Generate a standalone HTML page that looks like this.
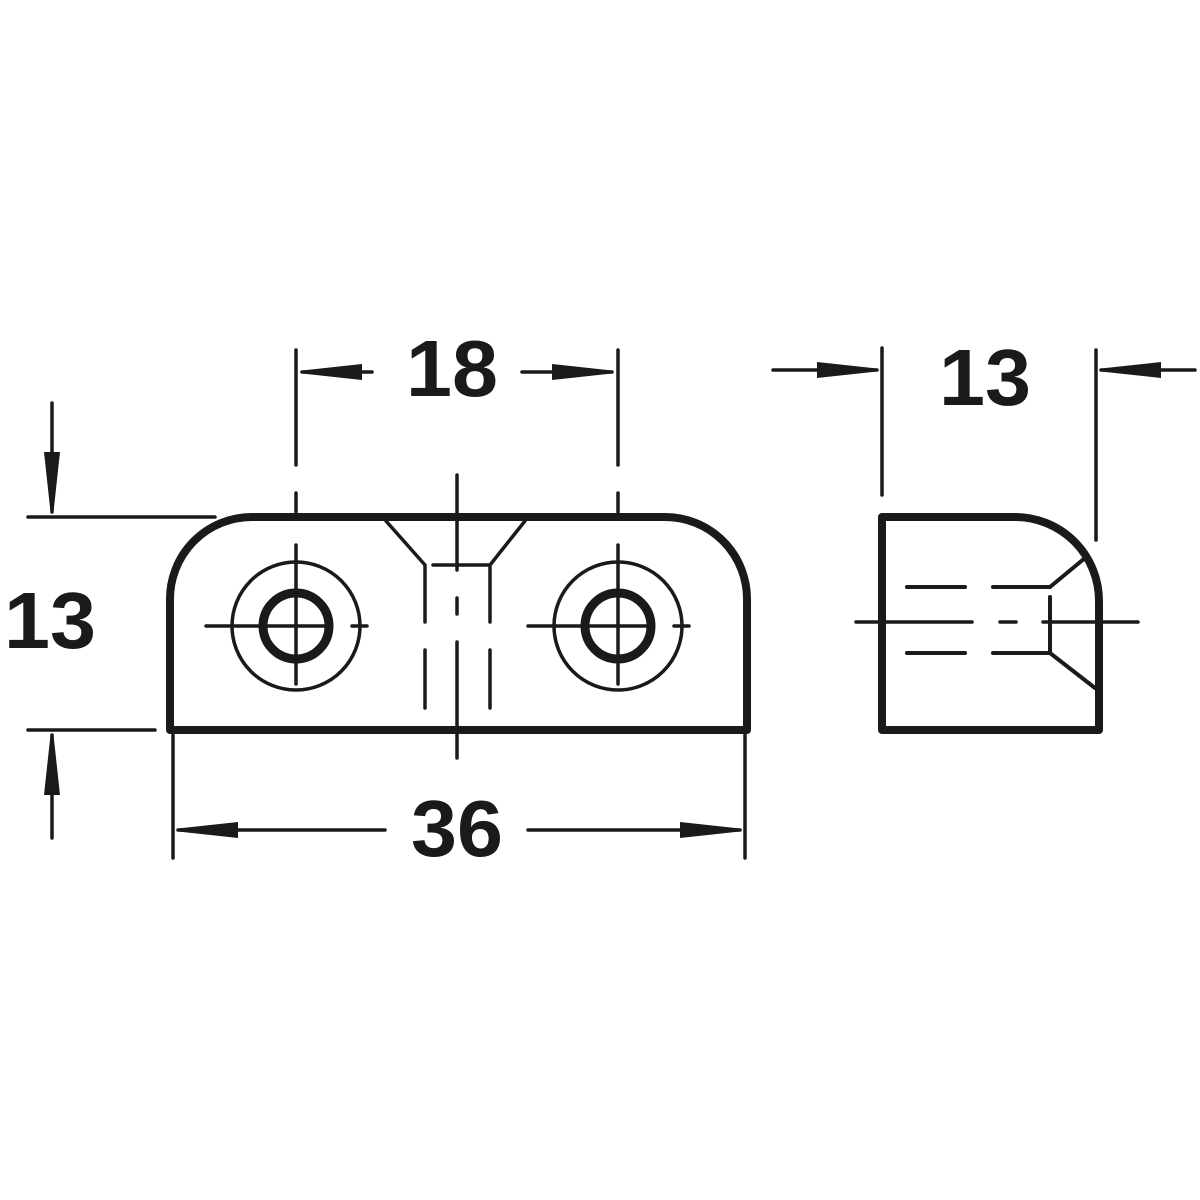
<!DOCTYPE html>
<html><head><meta charset="utf-8"><style>html,body{margin:0;padding:0;background:#fff}svg{display:block}</style></head>
<body>
<svg width="1200" height="1200" viewBox="0 0 1200 1200" xmlns="http://www.w3.org/2000/svg">
<defs>
<marker id="a" viewBox="0 0 60 16" refX="60" refY="8" markerWidth="60" markerHeight="16" markerUnits="userSpaceOnUse" orient="auto"><path d="M0,0 L60,6.5 L60,9.5 L0,16 Z" fill="#1a1a1a"/></marker>
</defs>
<g stroke="#1a1a1a" fill="none" stroke-linecap="round">
<path d="M170,730 L170,600 A82,82 0 0 1 252,517 L665,517 A82,82 0 0 1 747,600 L747,730 Z" stroke-width="8" stroke-linejoin="round"/>
<circle cx="296" cy="626" r="33" stroke-width="9"/>
<circle cx="296" cy="626" r="64" stroke-width="3.5"/>
<circle cx="618" cy="626" r="33" stroke-width="9"/>
<circle cx="618" cy="626" r="64" stroke-width="3.5"/>
<g stroke-width="3.5">
<line x1="206" y1="626" x2="325" y2="626"/><line x1="352" y1="626" x2="367" y2="626"/>
<line x1="296" y1="545" x2="296" y2="684"/><line x1="296" y1="493" x2="296" y2="512"/>
<line x1="528" y1="626" x2="647" y2="626"/><line x1="674" y1="626" x2="689" y2="626"/>
<line x1="618" y1="545" x2="618" y2="684"/><line x1="618" y1="493" x2="618" y2="512"/>
<polyline points="386,521 425,565 425,622"/>
<polyline points="525,521 490,565 490,622"/>
<line x1="433" y1="565" x2="490" y2="565"/>
<line x1="425" y1="650" x2="425" y2="708"/><line x1="490" y1="650" x2="490" y2="708"/>
<line x1="457" y1="475" x2="457" y2="570"/><line x1="457" y1="598" x2="457" y2="614"/><line x1="457" y1="642" x2="457" y2="758"/>
<line x1="296" y1="350" x2="296" y2="465"/><line x1="618" y1="350" x2="618" y2="465"/>
<line x1="372" y1="372" x2="302" y2="372" marker-end="url(#a)"/>
<line x1="522" y1="372" x2="612" y2="372" marker-end="url(#a)"/>
<line x1="173" y1="735" x2="173" y2="858"/><line x1="745" y1="735" x2="745" y2="858"/>
<line x1="385" y1="830" x2="178" y2="830" marker-end="url(#a)"/>
<line x1="528" y1="830" x2="740" y2="830" marker-end="url(#a)"/>
<line x1="28" y1="517" x2="215" y2="517"/><line x1="28" y1="730" x2="155" y2="730"/>
<line x1="52" y1="403" x2="52" y2="512" marker-end="url(#a)"/>
<line x1="52" y1="838" x2="52" y2="735" marker-end="url(#a)"/>
<line x1="882" y1="348" x2="882" y2="495"/><line x1="1096" y1="350" x2="1096" y2="540"/>
<line x1="773" y1="370" x2="877" y2="370" marker-end="url(#a)"/>
<line x1="1195" y1="370" x2="1101" y2="370" marker-end="url(#a)"/>
</g>
<path d="M882,730 L882,517 L1015,517 A84,84 0 0 1 1099,601 L1099,730 Z" stroke-width="8" stroke-linejoin="round"/>
<g stroke-width="4">
<line x1="907" y1="587" x2="965" y2="587"/><line x1="993" y1="587" x2="1050" y2="587"/><line x1="1050" y1="587" x2="1085" y2="558"/>
<line x1="907" y1="653" x2="965" y2="653"/><line x1="993" y1="653" x2="1050" y2="653"/><line x1="1050" y1="653" x2="1095" y2="688"/>
<line x1="1050" y1="597" x2="1050" y2="653"/>
</g>
<g stroke-width="3.5">
<line x1="856" y1="622" x2="972" y2="622"/><line x1="1000" y1="622" x2="1016" y2="622"/><line x1="1043" y1="622" x2="1138" y2="622"/>
</g>
</g>
<g font-family="Liberation Sans, sans-serif" font-weight="bold" font-size="80" fill="#1a1a1a" text-anchor="middle">
<text x="452" y="396" textLength="92" lengthAdjust="spacingAndGlyphs">18</text>
<text x="457" y="856" textLength="92" lengthAdjust="spacingAndGlyphs">36</text>
<text x="50" y="648" textLength="92" lengthAdjust="spacingAndGlyphs">13</text>
<text x="985" y="405" textLength="92" lengthAdjust="spacingAndGlyphs">13</text>
</g>
</svg>
</body></html>
